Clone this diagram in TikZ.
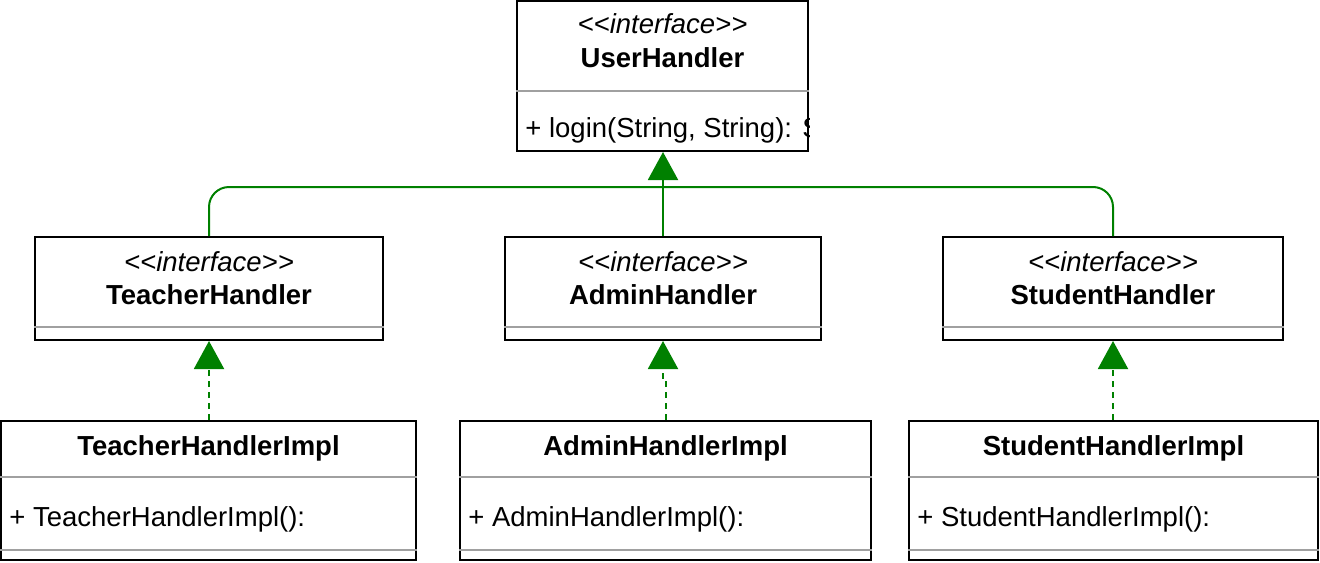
\documentclass[tikz,border=0pt]{standalone}
\usepackage{fontspec}
\newfontfamily\umlfont{Liberation Sans}
\usepackage{tikz}
\usetikzlibrary{arrows.meta}

\definecolor{umlgreen}{HTML}{008000}
\definecolor{divgrey}{HTML}{A0A0A0}

\tikzset{
  umlbox/.style={draw, line width=1pt, rectangle, inner sep=0pt},
  umltext/.style={font=\umlfont\fontsize{13.75}{16}\selectfont, inner sep=0pt},
  divider/.style={divgrey, line width=1pt},
  gen/.style={umlgreen, line width=1pt, rounded corners=10pt},
  realize/.style={umlgreen, line width=1pt, dash pattern=on 3pt off 2.5pt},
  tip/.style={-{Triangle[width=15pt,length=14pt]}}
}

\begin{document}
\begin{tikzpicture}[x=0.5pt, y=-0.5pt]
    \useasboundingbox (0, 0) rectangle (1320, 562);

    % interface on top
    \node [umlbox, minimum width=145.5pt, minimum height=75pt] (UH) at (662.5, 76) {};
    \node [umltext, anchor=base] (UHs) at (662.5, 33) {\itshape <<interface>>};
    \node [umltext, anchor=base] (UHn) at (662.5, 67) {\bfseries UserHandler};
    \draw [divider] (UH.west |- 0, 91) -- (UH.east |- 0, 91);
    \begin{scope}
      \clip (UH.south west) rectangle (UH.north east);
      \node [umltext, anchor=base west] (UHm) at (525, 137) {+ login(String, String): String};
    \end{scope}

    % sub-interfaces
    \node [umlbox, minimum width=174pt, minimum height=51.5pt] (TH) at (209, 288.5) {};
    \node [umltext, anchor=base] (THs) at (209, 271) {\itshape <<interface>>};
    \node [umltext, anchor=base] (THn) at (209, 304) {\bfseries TeacherHandler};
    \draw [divider] (TH.west |- 0, 327) -- (TH.east |- 0, 327);

    \node [umlbox, minimum width=158pt, minimum height=51.5pt] (AH) at (663, 288.5) {};
    \node [umltext, anchor=base] (AHs) at (663, 271) {\itshape <<interface>>};
    \node [umltext, anchor=base] (AHn) at (663, 304) {\bfseries AdminHandler};
    \draw [divider] (AH.west |- 0, 327) -- (AH.east |- 0, 327);

    \node [umlbox, minimum width=170pt, minimum height=51.5pt] (SH) at (1113, 288.5) {};
    \node [umltext, anchor=base] (SHs) at (1113, 271) {\itshape <<interface>>};
    \node [umltext, anchor=base] (SHn) at (1113, 304) {\bfseries StudentHandler};
    \draw [divider] (SH.west |- 0, 327) -- (SH.east |- 0, 327);

    % implementations
    \node [umlbox, minimum width=207.5pt, minimum height=69.5pt] (TI) at (208.5, 490.5) {};
    \node [umltext, anchor=base] (TIn) at (208.5, 455) {\bfseries TeacherHandlerImpl};
    \draw [divider] (TI.west |- 0, 477) -- (TI.east |- 0, 477);
    \node [umltext, anchor=base west] (TIm) at (9, 526) {+ TeacherHandlerImpl():};
    \draw [divider] (TI.west |- 0, 550) -- (TI.east |- 0, 550);

    \node [umlbox, minimum width=205.5pt, minimum height=69.5pt] (AI) at (665.5, 490.5) {};
    \node [umltext, anchor=base] (AIn) at (665.5, 455) {\bfseries AdminHandlerImpl};
    \draw [divider] (AI.west |- 0, 477) -- (AI.east |- 0, 477);
    \node [umltext, anchor=base west] (AIm) at (468, 526) {+ AdminHandlerImpl():};
    \draw [divider] (AI.west |- 0, 550) -- (AI.east |- 0, 550);

    \node [umlbox, minimum width=204.5pt, minimum height=69.5pt] (SI) at (1113.5, 490.5) {};
    \node [umltext, anchor=base] (SIn) at (1113.5, 455) {\bfseries StudentHandlerImpl};
    \draw [divider] (SI.west |- 0, 477) -- (SI.east |- 0, 477);
    \node [umltext, anchor=base west] (SIm) at (917, 526) {+ StudentHandlerImpl():};
    \draw [divider] (SI.west |- 0, 550) -- (SI.east |- 0, 550);

    % generalisation
    \coordinate (bus) at (663, 187);
    \draw [gen, tip] (AH.north) -- (UH.south -| AH.north);
    \draw [gen] (TH.north) |- (bus);
    \draw [gen] (SH.north) |- (bus);

    % realisation
    \draw [realize, tip] (TI.north -| TH.south) -- (TH.south);
    \draw [realize, tip] (AI.north) |- ++(0, -40) -| (AH.south);
    \draw [realize, tip] (SI.north -| SH.south) -- (SH.south);
\end{tikzpicture}
\end{document}
